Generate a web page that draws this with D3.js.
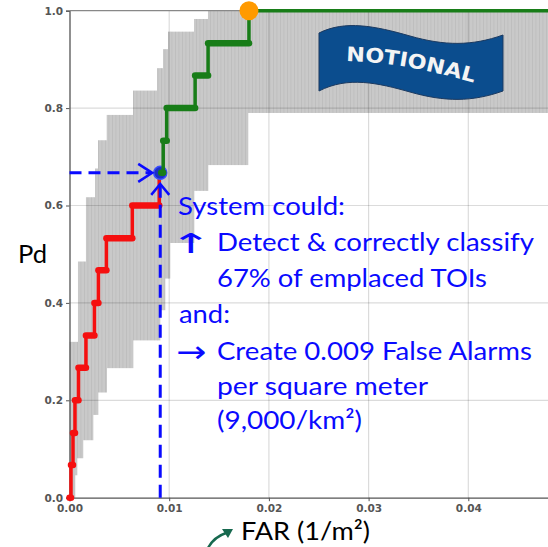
<!DOCTYPE html>
<html><head><meta charset="utf-8">
<script src="https://cdn.jsdelivr.net/npm/d3@7"></script>
<style>html,body{margin:0;padding:0;background:#fff;overflow:hidden}</style>
</head><body><svg id="c" width="548" height="547"></svg>
<script>
// ---- data ----
const xTicks = [0, 0.01, 0.02, 0.03, 0.04];
const yTicks = [0, 0.2, 0.4, 0.6, 0.8, 1.0];
// red ROC steps (FAR where Pd jumps to level)
const redFar = [0, 0.00015, 0.00035, 0.00055, 0.0009, 0.00165, 0.0025, 0.0029, 0.0037, 0.0063, 0.009];
const redPd  = [0, 0.067, 0.133, 0.2, 0.267, 0.333, 0.4, 0.467, 0.533, 0.6, 0.667];
// green ROC steps
const greenFar = [0.0092, 0.0094, 0.00975, 0.0126, 0.0139, 0.018, 0.05];
const greenPd  = [0.667, 0.733, 0.8, 0.867, 0.933, 1.0, 1.0];
// confidence band: upper and lower step bounds
const hiFar = [0, 0.00085, 0.00165, 0.00256, 0.00286, 0.00373, 0.00637, 0.00878, 0.00938, 0.00988, 0.01249, 0.01389];
const hiPd  = [0.32, 0.485, 0.617, 0.676, 0.734, 0.786, 0.836, 0.882, 0.921, 0.957, 0.983, 1.0];
const loFar = [0, 0.00055, 0.00075, 0.00135, 0.00236, 0.00286, 0.00373, 0.00637, 0.00908, 0.00958, 0.01008, 0.01249, 0.01389, 0.0179];
const loPd  = [0, 0.046, 0.081, 0.118, 0.17, 0.216, 0.266, 0.323, 0.385, 0.45, 0.523, 0.63, 0.683, 0.79];
const bandEnd = 0.05;
// operating point and best point
const opFar = 0.0091, opPd = 0.667;
const bestFar = 0.018, bestPd = 1.0;

// ---- scales ----
const svg = d3.select('#c');
const x = d3.scaleLinear().domain([0, 0.05]).range([69.5, 568]);
const y = d3.scaleLinear().domain([0, 1]).range([497.7, 10.7]);

// pattern for striped band
const defs = svg.append('defs');
const pat = defs.append('pattern').attr('id','stripe').attr('patternUnits','userSpaceOnUse')
  .attr('width',3.5).attr('height',10);
pat.append('rect').attr('width',3.5).attr('height',10).attr('fill','#c9c9c9');
pat.append('rect').attr('width',0.8).attr('height',10).attr('fill','#bcbcbc');

// band
function stepVal(xs, ys, v){ let r = ys[0]; for(let i=0;i<xs.length;i++){ if(v>=xs[i]-1e-12) r=ys[i]; } return r; }
const edges = Array.from(new Set(hiFar.concat(loFar))).sort((a,b)=>a-b);
const bandRows = edges.map((e,i)=>({x0:e, x1: i<edges.length-1?edges[i+1]:bandEnd, hi:stepVal(hiFar,hiPd,e), lo:stepVal(loFar,loPd,e)}));
svg.append('g').selectAll('rect').data(bandRows).join('rect')
  .attr('x', d=>x(d.x0)).attr('width', d=>x(d.x1)-x(d.x0)+0.3)
  .attr('y', d=>y(d.hi)).attr('height', d=>y(d.lo)-y(d.hi))
  .attr('fill','url(#stripe)');

// grid
const grid = svg.append('g').attr('stroke','rgba(0,0,0,0.14)').attr('stroke-width',1.2);
grid.selectAll('.gx').data(xTicks.slice(1)).join('line')
  .attr('x1',d=>x(d)).attr('x2',d=>x(d)).attr('y1',y(1)).attr('y2',y(0));
grid.selectAll('.gy').data(yTicks.slice(1,-1)).join('line')
  .attr('x1',x(0)).attr('x2',548).attr('y1',d=>y(d)).attr('y2',d=>y(d));

// axes
const xAxis = svg.append('g').attr('transform',`translate(0,${y(0)})`)
  .call(d3.axisBottom(x).tickValues(xTicks).tickFormat(d3.format('.2f')).tickSize(3.5).tickPadding(3));
const yAxis = svg.append('g').attr('transform',`translate(${x(0)},0)`)
  .call(d3.axisLeft(y).tickValues(yTicks).tickFormat(d3.format('.1f')).tickSize(3.5).tickPadding(3));
[xAxis,yAxis].forEach(g=>{
  g.select('.domain').attr('stroke','#555').attr('stroke-width',1.3);
  g.selectAll('.tick line').attr('stroke','#555');
  g.selectAll('.tick text').attr('fill','#555').attr('font-family','DejaVu Sans').attr('font-size',10.5).attr('font-weight','bold');
});
svg.append('line').attr('x1',x(0)).attr('x2',548).attr('y1',y(1)).attr('y2',y(1)).attr('stroke','#888').attr('stroke-width',1.3);

// step curves
function drawSteps(xs, ys, color, thickLevels){
  const pts = xs.map((v,i)=>[x(v), y(ys[i])]);
  svg.append('path').attr('d', d3.line().curve(d3.curveStepAfter)(pts))
    .attr('fill','none').attr('stroke',color).attr('stroke-width',3.5);
  const segs = [];
  for(let i=0;i<xs.length-1;i++){ if(thickLevels(i)) segs.push({x0:xs[i], x1:xs[i+1], p:ys[i]}); }
  svg.append('g').selectAll('line').data(segs).join('line')
    .attr('x1',d=>x(d.x0)).attr('x2',d=>x(d.x1)).attr('y1',d=>y(d.p)).attr('y2',d=>y(d.p))
    .attr('stroke',color).attr('stroke-width',6.5).attr('stroke-linecap','round');
}
drawSteps(redFar, redPd, '#f50f0f', i=>i<redFar.length-1 && redPd[i]!==redPd[i+1]);

// operating point circle
svg.append('circle').attr('cx',x(opFar)).attr('cy',y(opPd)).attr('r',6.5)
  .attr('fill','#1c2fc4').attr('stroke','#3a4cff').attr('stroke-width',1.5);
drawSteps(greenFar, greenPd, '#187d18', i=>greenPd[i]<1);

// best point
svg.append('circle').attr('cx',x(bestFar)).attr('cy',y(bestPd)).attr('r',9.5).attr('fill','#ff9a00');

// dashed annotation lines
const blue = '#0a0aff';
const px = x(opFar), py = y(opPd);
svg.append('line').attr('x1',x(0)).attr('x2',px-9).attr('y1',py).attr('y2',py)
  .attr('stroke',blue).attr('stroke-width',3).attr('stroke-dasharray','12,7');
svg.append('path').attr('d',`M${px-22},${py-9}L${px-8},${py}L${px-22},${py+9}`)
  .attr('fill','none').attr('stroke',blue).attr('stroke-width',2.5);
svg.append('line').attr('x1',px).attr('x2',px).attr('y1',y(0)).attr('y2',py+11)
  .attr('stroke',blue).attr('stroke-width',3).attr('stroke-dasharray','13,7');
svg.append('path').attr('d',`M${px-9},${py+22}L${px},${py+11}L${px+9},${py+22}`)
  .attr('fill','none').attr('stroke',blue).attr('stroke-width',2.5);

// NOTIONAL banner
svg.append('path')
  .attr('d','M319,33 C345,20 375,26 410,36 C445,46 472,46 503,35 L503,91 C472,102 445,102 410,92 C378,83 348,76 319,91 Z')
  .attr('fill','#0b4d8e').attr('stroke','#1c3a60').attr('stroke-width',1);
defs.append('path').attr('id','wave').attr('d','M346,61 C390,62 430,70 482,85');
svg.append('text').attr('font-family','DejaVu Sans').attr('font-weight','bold').attr('font-size',20)
  .attr('fill','#f4f4f4').append('textPath').attr('href','#wave').attr('textLength',130)
  .attr('lengthAdjust','spacingAndGlyphs').text('NOTIONAL');

// annotation text
const font = "Lato, 'Open Sans', sans-serif";
const lines = [
  {t:'System could:', x:178, y:215, w:167},
  {t:'Detect & correctly classify', x:217, y:251, w:317},
  {t:'67% of emplaced TOIs', x:217, y:287, w:270},
  {t:'and:', x:179, y:323, w:51},
  {t:'Create 0.009 False Alarms', x:217, y:360, w:315},
  {t:'per square meter', x:217, y:395, w:211},
  {t:'(9,000/km²)', x:217, y:429, w:145}
];
svg.append('g').selectAll('text').data(lines).join('text')
  .attr('x',d=>d.x).attr('y',d=>d.y).attr('textLength',d=>d.w).attr('lengthAdjust','spacingAndGlyphs')
  .attr('font-family',font).attr('font-size',25).attr('fill',blue).text(d=>d.t);
svg.append('text').attr('transform','translate(191,253) scale(1.5,0.8)').attr('text-anchor','middle')
  .attr('font-family',"'DejaVu Sans'").attr('font-size',34).attr('fill',blue).text('↑');
svg.append('text').attr('transform','translate(191,362) scale(1.2,1)').attr('text-anchor','middle')
  .attr('font-family',"'DejaVu Sans'").attr('font-size',30).attr('fill',blue).text('→');

// axis titles
svg.append('text').attr('x',18).attr('y',263).attr('textLength',29).attr('lengthAdjust','spacingAndGlyphs')
  .attr('font-family',font).attr('font-size',25).attr('fill','#000').text('Pd');
svg.append('text').attr('x',241).attr('y',540).attr('textLength',129).attr('lengthAdjust','spacingAndGlyphs')
  .attr('font-family',font).attr('font-size',25).attr('fill','#000').text('FAR (1/m²)');

// small green curved arrow
svg.append('path').attr('d','M208,548 Q214,537 226,533').attr('fill','none').attr('stroke','#17694f').attr('stroke-width',2.5);
svg.append('path').attr('d','M233,529 L222,529 L228,538 Z').attr('fill','#17694f');
</script></body></html>
